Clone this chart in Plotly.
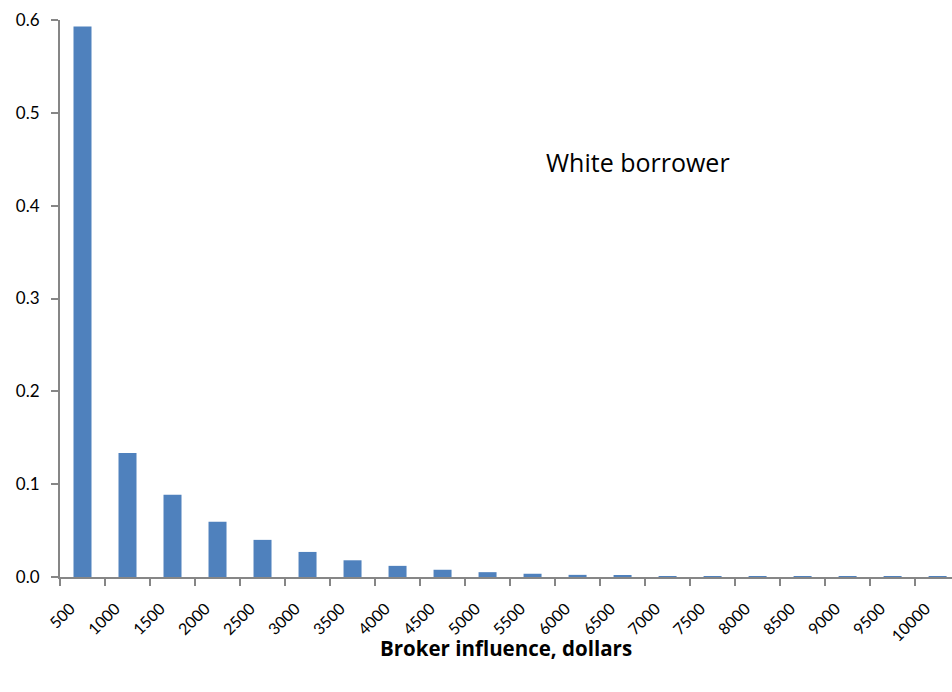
import plotly.graph_objects as go

categories = ["500", "1000", "1500", "2000", "2500", "3000", "3500", "4000", "4500", "5000",
              "5500", "6000", "6500", "7000", "7500", "8000", "8500", "9000", "9500", "10000"]
values = [0.593, 0.1335, 0.0885, 0.0595, 0.0400, 0.0270, 0.0180, 0.0120, 0.0078, 0.0052,
          0.0035, 0.0023, 0.0015, 0.0010, 0.0006, 0.0004, 0.0003, 0.0002, 0.0001, 0.0001]
y_ticks = [0.0, 0.1, 0.2, 0.3, 0.4, 0.5, 0.6]

FONT = "Lato, Calibri, 'Liberation Sans', sans-serif"
FONT2 = "'Open Sans', Calibri, sans-serif"
AXIS = "#868686"

fig = go.Figure(go.Bar(x=categories, y=values, marker=dict(color="#4F81BD", line=dict(width=0))))

fig.update_layout(
    width=952, height=692,
    margin=dict(l=60, r=0, t=20, b=115),
    paper_bgcolor="white", plot_bgcolor="white",
    bargap=0.6, showlegend=False,
    font=dict(family=FONT, color="black"),
)
fig.update_xaxes(
    type="category", range=[-0.5, 19.32],
    showline=True, linecolor=AXIS, linewidth=2,
    ticks="outside", tickson="boundaries", ticklen=7, tickcolor=AXIS, tickwidth=1.5,
    tickangle=-45, tickfont=dict(size=16, family=FONT),
    ticklabelstandoff=14, ticklabelshift=-12,
    showgrid=False, zeroline=False,
)
fig.update_yaxes(
    range=[0, 0.6], tickvals=y_ticks, tickformat=".1f",
    showline=True, linecolor=AXIS, linewidth=2,
    ticks="outside", ticklen=7, tickcolor=AXIS, tickwidth=1.5,
    tickfont=dict(size=17, family=FONT), ticklabelstandoff=8,
    showgrid=False, zeroline=False,
)
fig.add_annotation(text="<b>Broker influence, dollars</b>", xref="paper", yref="paper",
                   x=0.5, y=-0.1275, xanchor="center", yanchor="middle", showarrow=False,
                   font=dict(size=20.5, family=FONT2, color="black"))
fig.add_annotation(text="White borrower", xref="paper", yref="paper",
                   x=0.648, y=0.745, xanchor="center", yanchor="middle", showarrow=False,
                   font=dict(size=25, family=FONT2, color="black"))

fig.write_html("out.html", config={"displayModeBar": False},
               post_script="document.body.style.margin='0';document.body.style.overflow='hidden';")
